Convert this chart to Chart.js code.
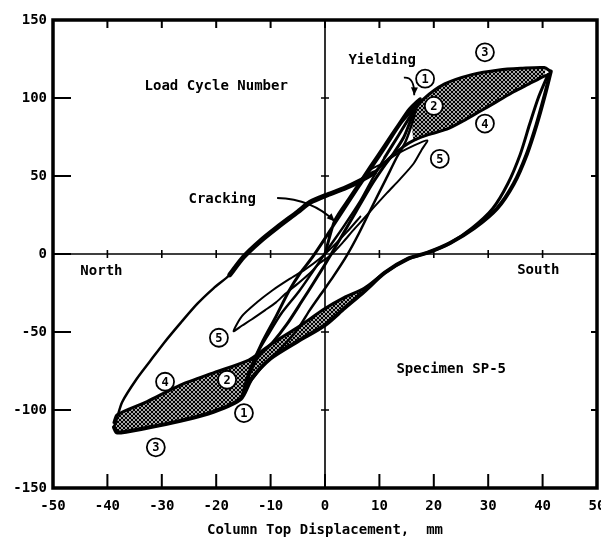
<!DOCTYPE html>
<html>
<head>
<meta charset="utf-8">
<title>Specimen SP-5 load cycles</title>
<script src="https://cdn.jsdelivr.net/npm/chart.js@4.4.0/dist/chart.umd.min.js"></script>
<style>
  body { margin: 0; background: #fff; }
  canvas { display: block; }
</style>
</head>
<body>
<canvas id="hysteresisChart" width="601" height="539"></canvas>
<script>
// axis ticks
const xTicks = [-50, -40, -30, -20, -10, 0, 10, 20, 30, 40, 50];
const yTicks = [-150, -100, -50, 0, 50, 100, 150];

// cycle 1: first loading (cracking, yielding) and first full cycle
const cycle1X = [0, 1.8, 4.5, 8.3, 11, 13.5, 15.5, 17.5, 17, 16, 14.5, 12.5, 11, 8.5, 5.5, 2.5, 0, -2, -4.2, -7, -9.7, -12.5, -14.2, -15.3, -15, -13.5, -11.6, -9, -6.6, -4.5, -2.4, 0, 3, 6, 8.5, 11, 14, 16.8];
const cycle1Y = [0, 21.5, 36, 56, 70, 83, 93, 99.5, 96, 88, 75, 64, 57, 44, 26, 8, -6.7, -18, -30, -45, -57, -67, -80, -92, -88, -72, -57, -40, -23.6, -12, -2.5, 10, 26, 42, 55, 68, 84, 95];

// cycle 2
const cycle2X = [16.8, 16.2, 14.8, 13.2, 11.2, 8.6, 6.2, 4, 1.6, -0.6, -2.8, -5, -8, -11.5, -14.8, -14, -12.5, -10.5, -8, -4.8, -2, 0.5, 3.5, 6.5, 9, 11];
const cycle2Y = [95, 86, 72, 62, 48, 30, 13, -1, -14, -25, -36, -48, -60, -72, -86, -76, -64, -52, -38, -24, -10, 3, 18, 34, 50, 62];

// cycle 3: loading to the south peak, then unloading to the north peak
const cycle3UpX = [11, 13.5, 16, 18, 22, 27, 32, 36, 40.3, 41.5];
const cycle3UpY = [62, 76, 90, 99, 109, 115, 118, 119, 119.5, 117];
const cycle3DownX = [41.5, 40.4, 38.9, 37.1, 34.7, 31.6, 27.4, 23, 19, 15.3, 11, 7.2, 3.5, 0, -5, -10, -13.5, -15.5, -20.4, -26.6, -32.7, -38.2, -38.8];
const cycle3DownY = [117, 101.7, 83, 64, 45, 29, 16.5, 7, 1, -3, -12, -24, -35, -45.6, -56, -67, -80, -93, -101, -107, -111.4, -114.5, -111];

// return branch from the north peak
const returnThinX = [-38.8, -38.3, -37.3, -34.6, -32, -29.6, -26.5, -23.5, -20.5, -17.5, -15];
const returnThinY = [-111, -106, -95, -80, -68, -57, -44, -32, -22, -13.3, -2];
const returnThickX = [-17.5, -15, -12, -8.8, -5, -2.8, 0.5, 3.5, 6.5, 9];
const returnThickY = [-13.3, -2, 8, 17, 27, 33, 38, 42, 47, 52];

// cycle 4
const cycle4UpX = [9, 12, 14.5, 16.4, 19, 22.4, 25.5, 28.5, 31.5, 34.7, 37.5, 40.3, 41];
const cycle4UpY = [52, 62, 69, 73, 76.5, 80, 85.5, 91.5, 97.5, 104, 109, 114, 115];
const cycle4DownX = [41, 39.2, 37.6, 35.9, 33.6, 30.8, 27, 23, 19, 15.3, 11, 7.2, 3.5, 0, -5, -10, -14, -20.4, -26.6, -32.7, -38.2, -38.8];
const cycle4DownY = [115, 100, 83, 64, 45, 29, 16.5, 7, 1, -3, -12, -22, -28, -35, -47, -58, -68, -76, -84, -94.6, -103, -108];

// cycle 5
const cycle5X = [6.5, 8.3, 10.5, 13.2, 16, 18.8, 17.8, 16.3, 13.8, 11.4, 9, 7.1, 5, 3.4, 1, -1, -3, -5, -7.3, -9, -11, -13.5, -15.3, -16.8, -15.3, -12.5, -9.7, -6.5, -3.7, -1, 1.5, 4, 6.5];
const cycle5Y = [47, 54, 58, 64, 69, 72.8, 67, 58, 48, 39.2, 30, 22.6, 14.5, 7.9, -1, -6, -13, -19, -25.5, -31, -36, -42, -46, -49.5, -40, -31, -23.4, -16, -10, -3, 5, 14, 24];

// shaded areas between cycles 3 and 4
const bandSouthX = [16, 18, 22, 27, 32, 36, 40.3, 40.3, 37.5, 34.7, 31.5, 28.5, 25.5, 22.4, 19, 16.4, 16];
const bandSouthY = [90, 99, 109, 115, 118, 119, 119.5, 114, 109, 104, 97.5, 91.5, 85.5, 80, 76.5, 73, 90];
const bandNorthX = [11, 7.2, 3.5, 0, -5, -10, -14, -20.4, -26.6, -32.7, -38.2, -38.8, -38.2, -32.7, -26.6, -20.4, -15.5, -13.5, -10, -5, 0, 3.5, 7.2, 11];
const bandNorthY = [-12, -22, -28, -35, -47, -58, -68, -76, -84, -94.6, -103, -110, -114.5, -111.4, -107, -101, -93, -80, -67, -56, -45.6, -35, -24, -12];

// text notes and circled cycle numbers
const notes = [
    { text: 'Load Cycle Number', x: -20, y: 107.4 },
    { text: 'Yielding', x: 10.5, y: 124.3 },
    { text: 'Cracking', x: -18.9, y: 35 },
    { text: 'North', x: -41.1, y: -11.1 },
    { text: 'South', x: 39.2, y: -10.5 },
    { text: 'Specimen SP-5', x: 23.2, y: -73.8 }
];
const cycleMarks = [
    { n: '1', x: 18.4, y: 112.4 }, { n: '2', x: 20, y: 94.9 }, { n: '3', x: 29.4, y: 129.3 },
    { n: '4', x: 29.4, y: 83.6 }, { n: '5', x: 21.1, y: 61 },
    { n: '5', x: -19.5, y: -53.7 }, { n: '4', x: -29.4, y: -81.9 }, { n: '2', x: -18, y: -80.6 },
    { n: '1', x: -14.9, y: -102 }, { n: '3', x: -31.1, y: -123.9 }
];

const FONT = '"DejaVu Sans Mono", monospace';

function pts(xs, ys) {
    return xs.map((x, i) => ({ x: x, y: ys[i] }));
}

function lineSet(label, xs, ys, width) {
    return {
        label: label,
        data: pts(xs, ys),
        showLine: true,
        borderColor: '#000',
        borderWidth: width,
        borderJoinStyle: 'round',
        borderCapStyle: 'round',
        pointRadius: 0,
        tension: 0.25,
        fill: false,
        order: 1
    };
}

// dense cross hatch for the shaded areas
function hatchPattern(ctx) {
    const c = document.createElement('canvas');
    c.width = 4;
    c.height = 4;
    const p = c.getContext('2d');
    p.fillStyle = '#fff';
    p.fillRect(0, 0, 4, 4);
    p.strokeStyle = '#000';
    p.lineWidth = 1;
    p.beginPath();
    p.moveTo(0, 4);
    p.lineTo(4, 0);
    p.moveTo(0, 0);
    p.lineTo(4, 4);
    p.stroke();
    p.fillStyle = 'rgba(0,0,0,0.35)';
    p.fillRect(0, 0, 4, 4);
    return ctx.createPattern(c, 'repeat');
}

function arrow(ctx, x, y, from, ctrl, to) {
    const p0 = [x.getPixelForValue(from[0]), y.getPixelForValue(from[1])];
    const pc = [x.getPixelForValue(ctrl[0]), y.getPixelForValue(ctrl[1])];
    const p1 = [x.getPixelForValue(to[0]), y.getPixelForValue(to[1])];
    ctx.lineWidth = 1.8;
    ctx.beginPath();
    ctx.moveTo(p0[0], p0[1]);
    ctx.quadraticCurveTo(pc[0], pc[1], p1[0], p1[1]);
    ctx.stroke();
    const a = Math.atan2(p1[1] - pc[1], p1[0] - pc[0]);
    ctx.beginPath();
    ctx.moveTo(p1[0], p1[1]);
    ctx.lineTo(p1[0] - 8 * Math.cos(a) + 3.5 * Math.sin(a), p1[1] - 8 * Math.sin(a) - 3.5 * Math.cos(a));
    ctx.lineTo(p1[0] - 8 * Math.cos(a) - 3.5 * Math.sin(a), p1[1] - 8 * Math.sin(a) + 3.5 * Math.cos(a));
    ctx.closePath();
    ctx.fill();
}

const overlay = {
    id: 'overlay',
    beforeDatasetsDraw(chart) {
        const { ctx, chartArea: a, scales: { x, y } } = chart;
        const x0 = x.getPixelForValue(0);
        const y0 = y.getPixelForValue(0);
        ctx.save();
        ctx.strokeStyle = '#000';
        ctx.lineWidth = 1.6;
        ctx.beginPath();
        ctx.moveTo(a.left, y0);
        ctx.lineTo(a.right, y0);
        ctx.moveTo(x0, a.top);
        ctx.lineTo(x0, a.bottom);
        xTicks.forEach(v => {
            const px = x.getPixelForValue(v);
            ctx.moveTo(px, y0 - 4);
            ctx.lineTo(px, y0 + 4);
        });
        yTicks.forEach(v => {
            const py = y.getPixelForValue(v);
            ctx.moveTo(x0 - 4, py);
            ctx.lineTo(x0 + 4, py);
        });
        ctx.stroke();
        ctx.restore();
    },
    afterDatasetsDraw(chart) {
        const { ctx, chartArea: a, scales: { x, y } } = chart;
        ctx.save();
        ctx.strokeStyle = '#000';
        ctx.fillStyle = '#000';

        // frame and inward ticks
        ctx.lineWidth = 3.5;
        ctx.strokeRect(a.left, a.top, a.right - a.left, a.bottom - a.top);
        ctx.lineWidth = 2;
        ctx.beginPath();
        xTicks.slice(1, -1).forEach(v => {
            const px = x.getPixelForValue(v);
            ctx.moveTo(px, a.top);
            ctx.lineTo(px, a.top + 8);
            ctx.moveTo(px, a.bottom);
            ctx.lineTo(px, a.bottom - 14);
        });
        yTicks.slice(1, -1).forEach(v => {
            const py = y.getPixelForValue(v);
            ctx.moveTo(a.left, py);
            ctx.lineTo(a.left + 18, py);
            ctx.moveTo(a.right, py);
            ctx.lineTo(a.right - 6, py);
        });
        ctx.stroke();

        // pointers to cracking and yielding
        arrow(ctx, x, y, [-8.8, 35.9], [-2.4, 35.3], [1.8, 20.9]);
        arrow(ctx, x, y, [14.5, 113], [16.5, 113.7], [16.4, 101.7]);

        ctx.font = 'bold 14px ' + FONT;
        ctx.textAlign = 'center';
        ctx.textBaseline = 'middle';
        notes.forEach(n => {
            ctx.fillText(n.text, x.getPixelForValue(n.x), y.getPixelForValue(n.y));
        });

        ctx.font = 'bold 12px ' + FONT;
        cycleMarks.forEach(m => {
            const px = x.getPixelForValue(m.x);
            const py = y.getPixelForValue(m.y);
            ctx.beginPath();
            ctx.arc(px, py, 9, 0, Math.PI * 2);
            ctx.fillStyle = '#fff';
            ctx.fill();
            ctx.lineWidth = 1.8;
            ctx.stroke();
            ctx.fillStyle = '#000';
            ctx.fillText(m.n, px, py + 1);
        });
        ctx.restore();
    }
};

document.addEventListener('DOMContentLoaded', function() {
    const ctx = document.getElementById('hysteresisChart').getContext('2d');
    const hatch = hatchPattern(ctx);
    const tickFont = { family: FONT, size: 14, weight: 'bold' };

    const bandSet = (label, xs, ys) => ({
        label: label,
        data: pts(xs, ys),
        showLine: true,
        borderColor: 'rgba(0,0,0,0)',
        borderWidth: 1,
        backgroundColor: hatch,
        pointRadius: 0,
        tension: 0.25,
        fill: 'shape',
        order: 5
    });

    new Chart(ctx, {
        type: 'scatter',
        data: {
            datasets: [
                bandSet('Cycles 3-4 south', bandSouthX, bandSouthY),
                bandSet('Cycles 3-4 north', bandNorthX, bandNorthY),
                lineSet('Cycle 1', cycle1X, cycle1Y, 3),
                lineSet('Cycle 2', cycle2X, cycle2Y, 2.5),
                lineSet('Cycle 3 loading', cycle3UpX, cycle3UpY, 3),
                lineSet('Cycle 3 unloading', cycle3DownX, cycle3DownY, 4),
                lineSet('Return', returnThinX, returnThinY, 2.5),
                lineSet('Return', returnThickX, returnThickY, 5),
                lineSet('Cycle 4 loading', cycle4UpX, cycle4UpY, 3),
                lineSet('Cycle 4 unloading', cycle4DownX, cycle4DownY, 3),
                lineSet('Cycle 5', cycle5X, cycle5Y, 2)
            ]
        },
        options: {
            responsive: false,
            animation: false,
            layout: {
                padding: { top: 20, right: 4, left: 0, bottom: 0 }
            },
            plugins: {
                legend: { display: false },
                tooltip: { enabled: false }
            },
            scales: {
                x: {
                    type: 'linear',
                    min: -50,
                    max: 50,
                    afterBuildTicks: s => { s.ticks = xTicks.map(v => ({ value: v })); },
                    afterFit: s => { s.height = 51; s.paddingLeft = 0; s.paddingRight = 0; },
                    ticks: { font: tickFont, color: '#000', padding: 10, maxRotation: 0, autoSkip: false },
                    grid: { display: false, drawTicks: false },
                    border: { display: false },
                    title: {
                        display: true,
                        text: 'Column Top Displacement,  mm',
                        font: tickFont,
                        color: '#000',
                        padding: { top: 0, bottom: 0 }
                    }
                },
                y: {
                    type: 'linear',
                    min: -150,
                    max: 150,
                    afterBuildTicks: s => { s.ticks = yTicks.map(v => ({ value: v })); },
                    afterFit: s => { s.width = 53; s.paddingTop = 0; s.paddingBottom = 0; },
                    ticks: { font: tickFont, color: '#000', padding: 6 },
                    grid: { display: false, drawTicks: false },
                    border: { display: false }
                }
            }
        },
        plugins: [overlay]
    });
});
</script>
</body>
</html>
